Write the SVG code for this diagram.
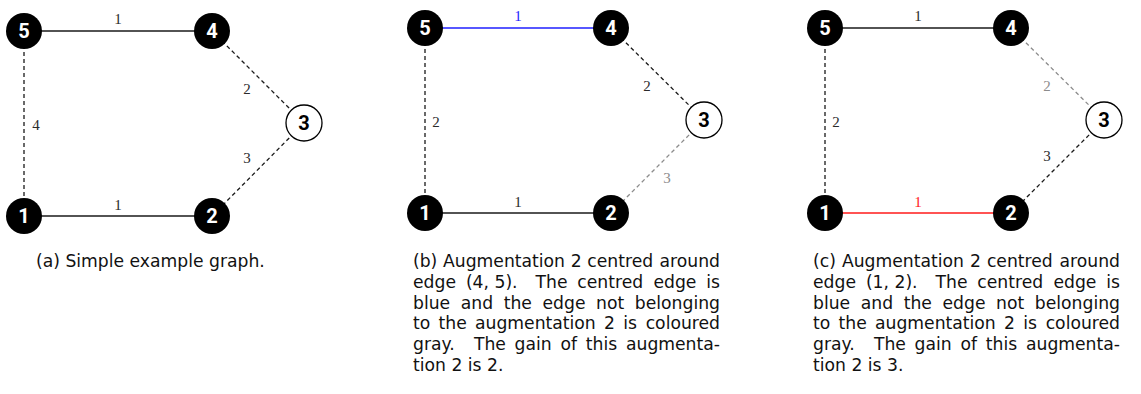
<svg xmlns="http://www.w3.org/2000/svg" width="1141" height="394" viewBox="0 0 1141 394">
<style>
.e{stroke:#1a1a1a;stroke-width:1.3;fill:none}
.d{stroke-dasharray:4,3}
.blue{stroke:#1f1fff}
.red{stroke:#ff1a1a}
.gray{stroke:#8c8c8c}
.nb{fill:#000}
.nw{fill:#fff;stroke:#000;stroke-width:1.3}
.nl{font-family:Roboto,"Liberation Sans",sans-serif;font-weight:bold;font-size:20px;text-anchor:middle;fill:#fff}
.nl3{fill:#000}
.el{font-family:"Liberation Serif","DejaVu Serif",serif;font-size:15px;text-anchor:middle;fill:#2a2a2a}
.elb{fill:#1f1fff}
.elr{fill:#ff1a1a}
.elg{fill:#8c8c8c}
.cap{font-family:"DejaVu Sans",sans-serif;font-size:17.2px;fill:#111}
.end{text-anchor:end}
</style>

<!-- Panel (a) -->
<g id="panel-a">
  <g id="a-edges">
    <line class="e" x1="24" y1="31" x2="212" y2="31"/>
    <line class="e d" x1="24" y1="31" x2="24" y2="216"/>
    <line class="e d" x1="212" y1="31" x2="304" y2="123"/>
    <line class="e d" x1="304" y1="123" x2="212" y2="216"/>
    <line class="e" x1="24" y1="216" x2="212" y2="216"/>
    <text class="el" x="118" y="24">1</text>
    <text class="el" x="36" y="130">4</text>
    <text class="el" x="247" y="94">2</text>
    <text class="el" x="247" y="163">3</text>
    <text class="el" x="118" y="210">1</text>
  </g>
  <g id="a-n5"><circle class="nb" cx="24" cy="31" r="18"/><text class="nl" x="24" y="38">5</text></g>
  <g id="a-n4"><circle class="nb" cx="212" cy="31" r="18"/><text class="nl" x="212" y="38">4</text></g>
  <g id="a-n3"><circle class="nw" cx="304" cy="123" r="18"/><text class="nl nl3" x="304" y="130">3</text></g>
  <g id="a-n1"><circle class="nb" cx="24" cy="216" r="18"/><text class="nl" x="24" y="223">1</text></g>
  <g id="a-n2"><circle class="nb" cx="212" cy="216" r="18"/><text class="nl" x="212" y="223">2</text></g>
  <text class="cap" x="36" y="267">(a) Simple example graph.</text>
</g>

<!-- Panel (b) -->
<g id="panel-b">
  <g id="b-edges">
    <line class="e blue" x1="425" y1="28" x2="611" y2="28"/>
    <line class="e d" x1="425" y1="28" x2="425" y2="213"/>
    <line class="e d" x1="611" y1="28" x2="704" y2="120"/>
    <line class="e d gray" x1="704" y1="120" x2="611" y2="213"/>
    <line class="e" x1="425" y1="213" x2="611" y2="213"/>
    <text class="el elb" x="518" y="21">1</text>
    <text class="el" x="436" y="127">2</text>
    <text class="el" x="647" y="91">2</text>
    <text class="el elg" x="667" y="183">3</text>
    <text class="el" x="518" y="207">1</text>
  </g>
  <g id="b-n5"><circle class="nb" cx="425" cy="28" r="18"/><text class="nl" x="425" y="35">5</text></g>
  <g id="b-n4"><circle class="nb" cx="611" cy="28" r="18"/><text class="nl" x="611" y="35">4</text></g>
  <g id="b-n3"><circle class="nw" cx="704" cy="120" r="18"/><text class="nl nl3" x="704" y="127">3</text></g>
  <g id="b-n1"><circle class="nb" cx="425" cy="213" r="18"/><text class="nl" x="425" y="220">1</text></g>
  <g id="b-n2"><circle class="nb" cx="611" cy="213" r="18"/><text class="nl" x="611" y="220">2</text></g>
  <text class="cap"><tspan x="413" y="267">(b)</tspan><tspan x="443" y="267">Augmentation</tspan><tspan x="570.7" y="267">2</tspan><tspan x="587.3" y="267">centred</tspan></text>
  <text class="cap end" x="720" y="267">around</text>
  <text class="cap"><tspan x="413" y="287.8">edge</tspan><tspan x="465.9" y="287.8">(4, 5).</tspan><tspan x="535.5" y="287.8">The</tspan><tspan x="577.3" y="287.8">centred</tspan><tspan x="653.4" y="287.8">edge</tspan></text>
  <text class="cap end" x="720" y="287.8">is</text>
  <text class="cap"><tspan x="413" y="308.6">blue</tspan><tspan x="460.8" y="308.6">and</tspan><tspan x="503.7" y="308.6">the</tspan><tspan x="542.5" y="308.6">edge</tspan><tspan x="596.1" y="308.6">not</tspan></text>
  <text class="cap end" x="720" y="308.6">belonging</text>
  <text class="cap"><tspan x="413" y="329.4">to</tspan><tspan x="438.5" y="329.4">the</tspan><tspan x="475" y="329.4">augmentation</tspan><tspan x="604.1" y="329.4">2</tspan><tspan x="623.3" y="329.4">is</tspan></text>
  <text class="cap end" x="720" y="329.4">coloured</text>
  <text class="cap"><tspan x="413" y="350.2">gray.</tspan><tspan x="473.9" y="350.2">The</tspan><tspan x="514.6" y="350.2">gain</tspan><tspan x="560.5" y="350.2">of</tspan><tspan x="585.8" y="350.2">this</tspan></text>
  <text class="cap end" x="720" y="350.2">augmenta-</text>
  <text class="cap" x="413" y="371">tion 2 is 2.</text>
</g>

<!-- Panel (c) -->
<g id="panel-c">
  <g id="c-edges">
    <line class="e" x1="825" y1="28" x2="1011" y2="28"/>
    <line class="e d" x1="825" y1="28" x2="825" y2="213"/>
    <line class="e d gray" x1="1011" y1="28" x2="1104" y2="120"/>
    <line class="e d" x1="1104" y1="120" x2="1011" y2="213"/>
    <line class="e red" x1="825" y1="213" x2="1011" y2="213"/>
    <text class="el" x="918" y="21">1</text>
    <text class="el" x="836" y="127">2</text>
    <text class="el elg" x="1047" y="91">2</text>
    <text class="el" x="1047" y="161">3</text>
    <text class="el elr" x="918" y="207">1</text>
  </g>
  <g id="c-n5"><circle class="nb" cx="825" cy="28" r="18"/><text class="nl" x="825" y="35">5</text></g>
  <g id="c-n4"><circle class="nb" cx="1011" cy="28" r="18"/><text class="nl" x="1011" y="35">4</text></g>
  <g id="c-n3"><circle class="nw" cx="1104" cy="120" r="18"/><text class="nl nl3" x="1104" y="127">3</text></g>
  <g id="c-n1"><circle class="nb" cx="825" cy="213" r="18"/><text class="nl" x="825" y="220">1</text></g>
  <g id="c-n2"><circle class="nb" cx="1011" cy="213" r="18"/><text class="nl" x="1011" y="220">2</text></g>
  <text class="cap"><tspan x="813" y="267">(c)</tspan><tspan x="841.9" y="267">Augmentation</tspan><tspan x="970" y="267">2</tspan><tspan x="986.9" y="267">centred</tspan></text>
  <text class="cap end" x="1120" y="267">around</text>
  <text class="cap"><tspan x="813" y="287.8">edge</tspan><tspan x="865.9" y="287.8">(1, 2).</tspan><tspan x="935.5" y="287.8">The</tspan><tspan x="977.3" y="287.8">centred</tspan><tspan x="1053.4" y="287.8">edge</tspan></text>
  <text class="cap end" x="1120" y="287.8">is</text>
  <text class="cap"><tspan x="813" y="308.6">blue</tspan><tspan x="860.8" y="308.6">and</tspan><tspan x="903.7" y="308.6">the</tspan><tspan x="942.5" y="308.6">edge</tspan><tspan x="996.1" y="308.6">not</tspan></text>
  <text class="cap end" x="1120" y="308.6">belonging</text>
  <text class="cap"><tspan x="813" y="329.4">to</tspan><tspan x="838.5" y="329.4">the</tspan><tspan x="875" y="329.4">augmentation</tspan><tspan x="1004.1" y="329.4">2</tspan><tspan x="1023.3" y="329.4">is</tspan></text>
  <text class="cap end" x="1120" y="329.4">coloured</text>
  <text class="cap"><tspan x="813" y="350.2">gray.</tspan><tspan x="873.9" y="350.2">The</tspan><tspan x="914.6" y="350.2">gain</tspan><tspan x="960.5" y="350.2">of</tspan><tspan x="985.8" y="350.2">this</tspan></text>
  <text class="cap end" x="1120" y="350.2">augmenta-</text>
  <text class="cap" x="813" y="371">tion 2 is 3.</text>
</g>
</svg>
